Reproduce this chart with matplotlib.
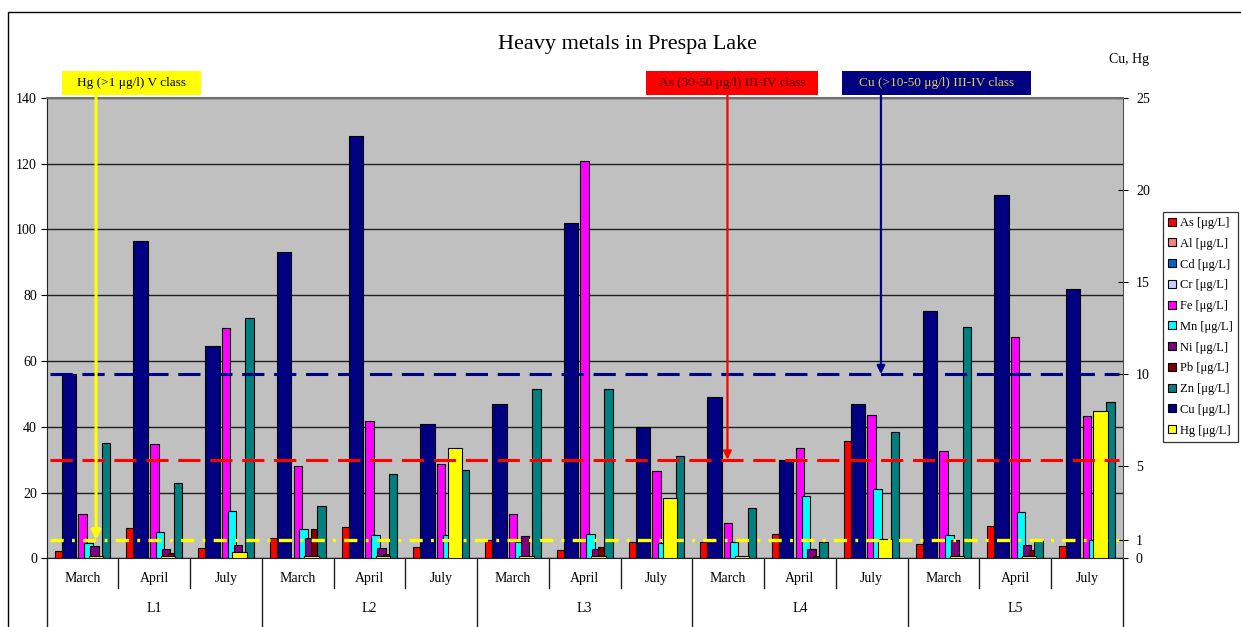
import matplotlib
matplotlib.use("Agg")
import matplotlib.pyplot as plt
from matplotlib.patches import Patch, Rectangle
import numpy as np

plt.rcParams['font.family'] = ['Liberation Serif', 'DejaVu Serif']
plt.rcParams['lines.scale_dashes'] = False

months = ["March", "April", "July"] * 5
locations = ["L1", "L2", "L3", "L4", "L5"]

# left axis series (µg/L)
as_vals = [2.3, 9.3, 3.2, 6.2, 9.5, 3.5, 5.6, 2.4, 5.0, 5.0, 7.3, 35.6, 4.4, 9.8, 3.6]
al_vals = [0] * 15
cd_vals = [0] * 15
cr_vals = [0] * 15
fe_vals = [13.5, 34.6, 70.0, 28.1, 41.8, 28.8, 13.5, 120.9, 26.6, 10.6, 33.6, 43.6, 32.6, 67.2, 43.3]
mn_vals = [4.6, 7.9, 14.4, 8.9, 7.0, 7.0, 4.9, 7.4, 4.6, 5.0, 18.9, 21.0, 7.1, 14.1, 5.5]
ni_vals = [3.8, 2.9, 4.1, 6.2, 3.0, 0, 6.8, 2.8, 0, 0, 2.9, 0, 5.5, 3.9, 0]
pb_vals = [0.5, 1.5, 0.5, 8.9, 1.2, 0, 0.5, 3.3, 0, 0.5, 0.8, 0, 0.5, 2.4, 0]
zn_vals = [35.0, 23.0, 73.0, 16.0, 25.5, 26.8, 51.5, 51.5, 31.1, 15.2, 5.1, 38.5, 70.2, 5.2, 47.4]

# right axis series (Cu, Hg)
cu_vals = [10.0, 17.2, 11.5, 16.6, 22.9, 7.27, 8.4, 18.2, 7.15, 8.74, 5.32, 8.4, 13.4, 19.7, 14.6]
hg_vals = [0.13, 0.13, 0.33, 0.13, 0.13, 6.0, 0.13, 0.13, 3.27, 0.13, 0, 1.03, 0.13, 0.13, 8.0]

primary = [
    ("As [μg/L]", as_vals, "#ff0000"),
    ("Al [μg/L]", al_vals, "#ff8080"),
    ("Cd [μg/L]", cd_vals, "#0066cc"),
    ("Cr [μg/L]", cr_vals, "#ccccff"),
    ("Fe [μg/L]", fe_vals, "#ff00ff"),
    ("Mn [μg/L]", mn_vals, "#00ffff"),
    ("Ni [μg/L]", ni_vals, "#800080"),
    ("Pb [μg/L]", pb_vals, "#800000"),
    ("Zn [μg/L]", zn_vals, "#008080"),
]
secondary = [
    ("Cu [μg/L]", cu_vals, "#000080"),
    ("Hg [μg/L]", hg_vals, "#ffff00"),
]

as_limit = 30   # left axis
cu_limit = 10   # right axis
hg_limit = 1    # right axis

W, H = 1241, 627
fig = plt.figure(figsize=(W / 100, H / 100), dpi=100)


def fx(px):
    return px / W


def fy(py):
    return 1 - py / H


L, R, T, B = 46.7, 1122.7, 97.7, 558.3
ax = fig.add_axes([fx(L), fy(B), fx(R) - fx(L), fy(T) - fy(B)])
ax.set_facecolor("#c0c0c0")
ax2 = ax.twinx()

x = np.arange(len(months))
step = 0.0823
bw = 0.118
for i, (name, vals, col) in enumerate(primary):
    ax.bar(x + (i - 4) * step, vals, bw, color=col, edgecolor="black", linewidth=0.8, zorder=3)

for j, (name, vals, col) in enumerate(secondary):
    off = -0.19 if j == 0 else 0.19
    ax2.bar(x + off, vals, 0.2, color=col, edgecolor="black", linewidth=0.8, zorder=3)

ax.set_xlim(-0.5, len(months) - 0.5)
ax.set_ylim(0, 140)
ax2.set_ylim(0, 25)
ax.set_yticks(range(0, 141, 20))
ax2.set_yticks([0, 1, 5, 10, 15, 20, 25])
ax.yaxis.grid(True, color="#202020", linewidth=1)
ax.set_axisbelow(True)
ax.set_xticks([])
ax2.set_xticks([])
ax.tick_params(axis="y", direction="out", length=4, labelsize=10, pad=3)
ax2.tick_params(axis="y", direction="inout", length=7, labelsize=10, pad=6)

for s in ["right", "top"]:
    ax.spines[s].set_visible(False)
for s in ["left", "bottom"]:
    ax2.spines[s].set_visible(False)
ax.spines["left"].set_color("#202020")
ax.spines["bottom"].set_color("#202020")
ax2.spines["top"].set_color("#707070")
ax2.spines["right"].set_color("#505050")
ax2.spines["top"].set_linewidth(1.5)

# threshold lines
xs = [-0.45, len(months) - 0.55]
ax2.plot(xs, [as_limit, as_limit], transform=ax.transData, color="#ff0000",
         lw=2.2, dashes=(16, 7), zorder=6)
ax2.plot(xs, [cu_limit, cu_limit], color="#000080", lw=2.2, dashes=(16, 7), zorder=6)
ax2.plot(xs, [hg_limit, hg_limit], color="#ffff00", lw=2.4,
         dashes=(9.5, 6, 2, 6), zorder=6)

# category labels below the plot
xt = ax.get_xaxis_transform()
for k in range(len(months) + 1):
    long_line = k % 3 == 0
    ax.plot([k - 0.5, k - 0.5], [0, -0.17 if long_line else -0.065], transform=xt,
            color="#202020", lw=1, clip_on=False)
for k, m in enumerate(months):
    ax.text(k, -0.043, m, transform=xt, ha="center", va="center", fontsize=10)
for k, loc in enumerate(locations):
    ax.text(3 * k + 1, -0.11, loc, transform=xt, ha="center", va="center", fontsize=10)

# annotation boxes and arrows
boxes = [
    (62, 201, "Hg (>1 μg/l) V class", "#ffff00", "black"),
    (646, 818, "As (30-50 μg/l) III-IV class", "#ff0000", "#3a0000"),
    (842, 1031, "Cu (>10-50 μg/l) III-IV class", "#000080", "#d8d050"),
]
for x0, x1, txt, fc, tc in boxes:
    fig.add_artist(Rectangle((fx(x0), fy(95)), fx(x1) - fx(x0), fy(71) - fy(95),
                             transform=fig.transFigure, facecolor=fc, edgecolor="none"))
    fig.text(fx((x0 + x1) / 2), fy(83), txt, ha="center", va="center", fontsize=9.5, color=tc)

ax2.annotate("", xy=(0.188, hg_limit), xycoords="data",
             xytext=(0.188, fy(95)), textcoords=("data", "figure fraction"),
             arrowprops=dict(arrowstyle="-|>", color="#ffff00", lw=2.2,
                             mutation_scale=14, shrinkA=0, shrinkB=0), zorder=7)
ax2.annotate("", xy=(8.99, as_limit), xycoords=ax.transData,
             xytext=(8.99, fy(95)), textcoords=("data", "figure fraction"),
             arrowprops=dict(arrowstyle="-|>", color="#ff0000", lw=1.6,
                             mutation_scale=12, shrinkA=0, shrinkB=0), zorder=7)
ax2.annotate("", xy=(11.13, cu_limit), xycoords="data",
             xytext=(11.13, fy(95)), textcoords=("data", "figure fraction"),
             arrowprops=dict(arrowstyle="-|>", color="#000080", lw=1.6,
                             mutation_scale=12, shrinkA=0, shrinkB=0), zorder=7)

fig.text(fx(628), fy(45), "Heavy metals in Prespa Lake", ha="center", va="center", fontsize=16)
fig.text(fx(1129), fy(60), "Cu, Hg", ha="center", va="center", fontsize=10)

handles = [Patch(facecolor=c, edgecolor="black", linewidth=0.8) for _, _, c in primary + secondary]
labels = [n for n, _, _ in primary + secondary]
leg = fig.legend(handles, labels, loc="upper left", bbox_to_anchor=(fx(1163), fy(212)),
                 fontsize=9, frameon=True, fancybox=False, handlelength=0.6,
                 handleheight=0.6, handletextpad=0.35, labelspacing=0.7,
                 borderpad=0.4, borderaxespad=0)
leg.get_frame().set_edgecolor("black")
leg.get_frame().set_linewidth(0.9)

# chart area frame
fig.add_artist(Rectangle((fx(8), fy(640)), fx(1260) - fx(8), fy(12) - fy(640),
                         transform=fig.transFigure, facecolor="none",
                         edgecolor="black", lw=1))

fig.savefig("out.png", dpi=100)
